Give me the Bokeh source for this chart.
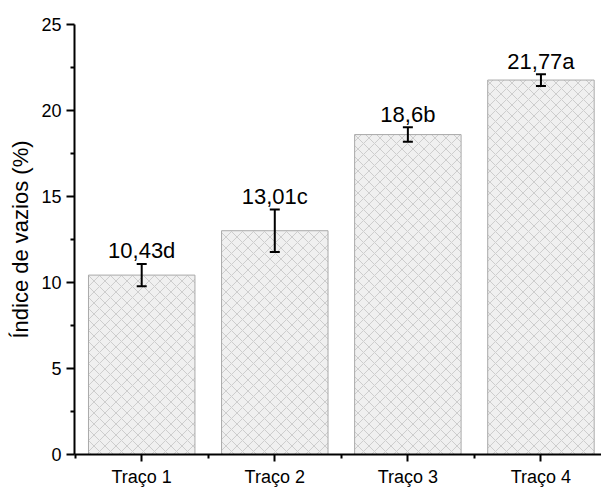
from bokeh.plotting import figure
from bokeh.models import ColumnDataSource, Range1d, FixedTicker, Whisker, TeeHead
from bokeh.core.properties import value
from bokeh.embed import file_html
from bokeh.resources import INLINE

categories = ["Traço 1", "Traço 2", "Traço 3", "Traço 4"]
means = [10.43, 13.01, 18.6, 21.77]
errors = [0.65, 1.23, 0.42, 0.34]
letters = ["d", "c", "b", "a"]
y_ticks = [0, 5, 10, 15, 20, 25]
y_minor = [2.5, 7.5, 12.5, 17.5, 22.5]

xs = list(range(len(categories)))
labels = [f"{str(m).replace('.', ',')}{l}" for m, l in zip(means, letters)]
src = ColumnDataSource(dict(
    x=xs, top=means,
    upper=[m + e for m, e in zip(means, errors)],
    lower=[m - e for m, e in zip(means, errors)],
    label=labels,
))

FONT = "Liberation Sans"
p = figure(width=601, height=489, output_backend="svg", toolbar_location=None,
           x_range=Range1d(-0.505, 3.455), y_range=Range1d(0, 25),
           min_border_left=74, min_border_right=0, min_border_top=24,
           min_border_bottom=33)
p.outline_line_color = None
p.grid.visible = False

p.vbar(x="x", top="top", width=0.8, bottom=0, source=src,
       fill_color="#f0f0f0", line_color="#a9a9a9", line_width=1,
       hatch_pattern="diagonal_cross", hatch_color="#c4c4c4",
       hatch_scale=11, hatch_weight=0.8)

w = Whisker(base="x", upper="upper", lower="lower", source=src,
            line_color="black", line_width=2, level="overlay",
            upper_head=TeeHead(size=10, line_width=2, line_color="black"),
            lower_head=TeeHead(size=10, line_width=2, line_color="black"))
p.add_layout(w)

p.text(x="x", y="upper", text="label", source=src, text_align="center",
       text_baseline="alphabetic", y_offset=-13, text_font=value(FONT),
       text_font_size="22px", text_color="black")

xa = p.xaxis[0]
xa.ticker = FixedTicker(ticks=xs, minor_ticks=[-0.5, 0.5, 1.5, 2.5])
xa.major_label_overrides = {i: c for i, c in enumerate(categories)}
xa.major_label_text_font = FONT
xa.major_label_text_font_size = "18px"
xa.major_label_text_color = "black"
xa.axis_line_width = 2
xa.axis_line_color = "black"
xa.major_tick_line_width = 2
xa.minor_tick_line_width = 2
xa.major_tick_out = 7
xa.major_tick_in = 0
xa.minor_tick_out = 4
xa.minor_tick_in = 0
xa.major_label_standoff = 5

ya = p.yaxis[0]
ya.ticker = FixedTicker(ticks=y_ticks, minor_ticks=y_minor)
ya.major_label_text_font = FONT
ya.major_label_text_font_size = "18px"
ya.major_label_text_color = "black"
ya.axis_line_width = 2
ya.axis_line_color = "black"
ya.major_tick_line_width = 2
ya.minor_tick_line_width = 2
ya.major_tick_out = 8
ya.major_tick_in = 0
ya.minor_tick_out = 4
ya.minor_tick_in = 0
ya.major_label_standoff = 5
ya.axis_label = "Índice de vazios (%)"
ya.axis_label_text_font = FONT
ya.axis_label_text_font_size = "22px"
ya.axis_label_text_font_style = "normal"
ya.axis_label_text_color = "black"
ya.axis_label_standoff = 5

open("out.html", "w").write(file_html(p, INLINE))
